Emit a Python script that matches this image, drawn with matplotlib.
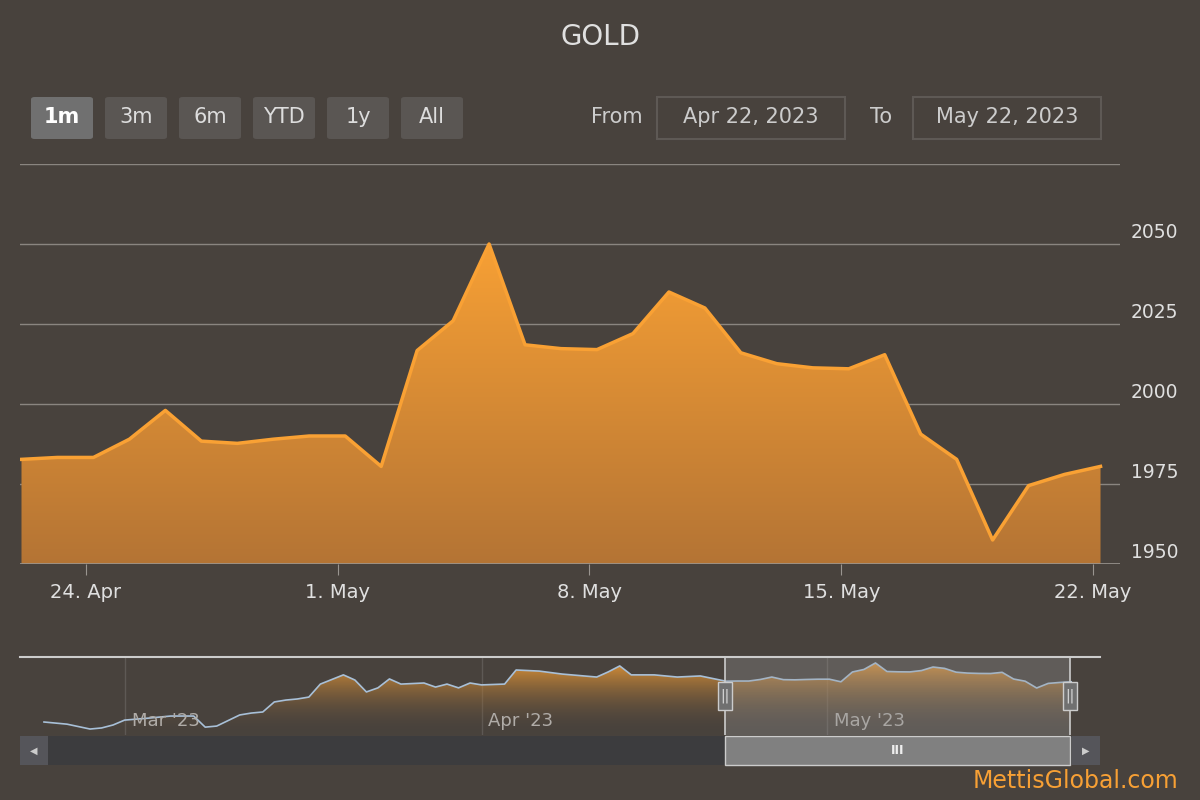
import matplotlib
matplotlib.use("Agg")
import matplotlib.pyplot as plt
import matplotlib.dates as mdates
from matplotlib.patches import Rectangle, FancyBboxPatch, Polygon
import numpy as np
import pandas as pd

# main series (daily close, Apr 22 - May 22 2023)
main_dates = pd.date_range("2023-04-22 05:00", periods=31, freq="D")
main_vals = [1982.7, 1983.3, 1983.3, 1989, 1998, 1988.4, 1987.7, 1989, 1990, 1990,
             1980.5, 2016.7, 2026, 2050, 2018.5, 2017.3, 2017, 2022, 2035, 2030,
             2016, 2012.6, 2011.3, 2011, 2015.4, 1990.6, 1982.7, 1957.5, 1974.5,
             1978, 1980.5]

# navigator history before the selected range
nav_dates = ["2023-02-22", "2023-02-24", "2023-02-26", "2023-02-27", "2023-02-28",
             "2023-03-01", "2023-03-03", "2023-03-05", "2023-03-07", "2023-03-08",
             "2023-03-09", "2023-03-11", "2023-03-12", "2023-03-13", "2023-03-14",
             "2023-03-15", "2023-03-16", "2023-03-17", "2023-03-18", "2023-03-20",
             "2023-03-21", "2023-03-22", "2023-03-23", "2023-03-24", "2023-03-25",
             "2023-03-27", "2023-03-28", "2023-03-29", "2023-03-30", "2023-03-31",
             "2023-04-01", "2023-04-03", "2023-04-04", "2023-04-06", "2023-04-08",
             "2023-04-11", "2023-04-12", "2023-04-13", "2023-04-14", "2023-04-16",
             "2023-04-18", "2023-04-20"]
nav_vals = [1832, 1824, 1806, 1810, 1821, 1839, 1846, 1854, 1854, 1813,
            1817, 1858, 1865, 1869, 1906, 1913, 1917, 1924, 1972, 2006,
            1987, 1943, 1958, 1991, 1972, 1976, 1961, 1972, 1958, 1976,
            1969, 1972, 2024, 2020, 2009, 1998, 2017, 2039, 2006, 2006,
            1998, 2002]

y_ticks = [1950, 1975, 2000, 2025, 2050, 2075]
x_ticks = ["2023-04-24", "2023-05-01", "2023-05-08", "2023-05-15", "2023-05-22"]
x_labels = ["24. Apr", "1. May", "8. May", "15. May", "22. May"]
buttons = ["1m", "3m", "6m", "YTD", "1y", "All"]

BG = "#48423d"
W, H = 1200, 800

fig = plt.figure(figsize=(12, 8), dpi=100, facecolor=BG)

def px_axes(x0, y0, x1, y1):
    return fig.add_axes([x0 / W, 1 - y1 / H, (x1 - x0) / W, (y1 - y0) / H])

def gradient_fill(ax, x, y, ybottom, c_top, c_bot, alpha_top=1.0, alpha_bot=1.0):
    xn = mdates.date2num(x)
    poly = Polygon(np.column_stack([np.r_[xn[0], xn, xn[-1]],
                                    np.r_[ybottom, y, ybottom]]),
                   closed=True, facecolor="none", edgecolor="none")
    ax.add_patch(poly)
    top = np.array(matplotlib.colors.to_rgba(c_top, alpha_top))
    bot = np.array(matplotlib.colors.to_rgba(c_bot, alpha_bot))
    t = np.linspace(0, 1, 256)[:, None]
    grad = (top * (1 - t) + bot * t)[:, None, :]
    ymax = max(y)
    im = ax.imshow(grad, aspect="auto", origin="upper",
                   extent=[xn[0], xn[-1], ybottom, ymax], zorder=1)
    im.set_clip_path(poly)

# title
fig.text(600 / W, 1 - 37 / H, "GOLD", color="#e0e0e0", fontsize=20,
         ha="center", va="center")

# main chart
ax = px_axes(20, 164, 1120, 564)
ax.set_facecolor("none")
t0 = pd.Timestamp("2023-04-22 05:00") - pd.Timedelta(hours=1)
t1 = pd.Timestamp("2023-05-22 05:00") + pd.Timedelta(hours=13)
ax.set_xlim(t0, t1)
ax.set_ylim(1950, 2075)
gradient_fill(ax, main_dates, main_vals, 1950, "#f7a035", "#b47434")
ax.plot(main_dates, main_vals, color="#f9a134", lw=2.5, zorder=3)
for v in y_ticks[1:]:
    ax.axhline(v, color="#8a8580", lw=1, zorder=0)
ax.axhline(1950, color="#9a9590", lw=1.2, zorder=4)
ax.set_xlim(t0, t1)
for s in ax.spines.values():
    s.set_visible(False)
ax.set_yticks([])
ax.set_xticks(pd.to_datetime(x_ticks))
ax.set_xticklabels(x_labels, color="#e0e0e0", fontsize=14)
ax.tick_params(axis="x", length=8, color="#9a9590", pad=6)
for v in y_ticks[:-1]:
    ax.text(1.053, (v - 1950) / 125 + 0.005, str(v), transform=ax.transAxes,
            color="#e0e0e0", fontsize=13.5, ha="right", va="bottom")

# range selector buttons
for i, b in enumerate(buttons):
    x0 = 31 + i * 74
    fc = "#707070" if i == 0 else "#5a5653"
    fig.patches.append(FancyBboxPatch((x0 / W, 1 - 139 / H), 62 / W, 42 / H,
                                      boxstyle="round,pad=0,rounding_size=0.003",
                                      transform=fig.transFigure, fc=fc, ec="none"))
    fig.text((x0 + 31) / W, 1 - 117 / H, b, color="white" if i == 0 else "#dddddd",
             fontsize=15, weight="bold" if i == 0 else "normal",
             ha="center", va="center")

# date inputs
fig.text(617 / W, 1 - 117 / H, "From", color="#cccccc", fontsize=15, ha="center", va="center")
fig.text(881 / W, 1 - 117 / H, "To", color="#cccccc", fontsize=15, ha="center", va="center")
for x0, x1, s in [(657, 845, "Apr 22, 2023"), (913, 1101, "May 22, 2023")]:
    fig.patches.append(Rectangle((x0 / W, 1 - 139 / H), (x1 - x0) / W, 42 / H,
                                 transform=fig.transFigure, fc="none",
                                 ec="#5e5955", lw=1.5))
    fig.text((x0 + x1) / 2 / W, 1 - 117 / H, s, color="#cccccc", fontsize=15,
             ha="center", va="center")

# navigator
nav_x = pd.to_datetime(nav_dates).append(main_dates)
nav_y = nav_vals + main_vals
nav = px_axes(20, 657, 1100, 735)
nav.set_facecolor("none")
n0 = pd.Timestamp("2023-02-19 22:00")
n1 = pd.Timestamp("2023-05-24 17:00")
nav.set_xlim(n0, n1)
nav.set_ylim(1784, 2072)
gradient_fill(nav, nav_x, nav_y, 1784, "#f7a035", "#48423d", 0.85, 0.0)
nav.plot(nav_x, nav_y, color="#a8c0d8", lw=1.2, zorder=3)
for d in ["2023-03-01", "2023-04-01", "2023-05-01"]:
    nav.axvline(pd.Timestamp(d), color="#5e5955", lw=1, zorder=0)
for d, s in [("2023-03-01", "Mar '23"), ("2023-04-01", "Apr '23"), ("2023-05-01", "May '23")]:
    nav.text(pd.Timestamp(d) + pd.Timedelta(days=0.6), 1836, s, color="#b0aca8",
             fontsize=13, va="center")
nav.axis("off")
nav.set_xlim(n0, n1)
sel0 = mdates.date2num(pd.Timestamp("2023-04-22 03:00"))
sel1 = mdates.date2num(pd.Timestamp("2023-05-22 03:00"))
nav.add_patch(Rectangle((sel0, 1784), sel1 - sel0, 288, fc="#9a9a9a", alpha=0.3,
                        ec="none", zorder=4))
nav.plot([mdates.date2num(n0), mdates.date2num(n1)], [2072, 2072], color="#cccccc",
         lw=1.5, clip_on=False, zorder=5)
nav.plot([sel0, sel0], [1784, 2072], color="#cccccc", lw=1.2, zorder=5)
nav.plot([sel1, sel1], [1784, 2072], color="#cccccc", lw=1.2, zorder=5)

# handles
for hx in [725, 1070]:
    fig.patches.append(Rectangle(((hx - 7) / W, 1 - 710 / H), 14 / W, 28 / H,
                                 transform=fig.transFigure, fc="#707070",
                                 ec="#cccccc", lw=1, zorder=6))
    fig.text(hx / W, 1 - 696 / H, "||", color="#dddddd", fontsize=10,
             ha="center", va="center", zorder=7)

# scrollbar
fig.patches.append(Rectangle((20 / W, 1 - 765 / H), 1080 / W, 29 / H,
                             transform=fig.transFigure, fc="#3c3c3e", ec="none"))
for x0 in [20, 1072]:
    fig.patches.append(Rectangle((x0 / W, 1 - 765 / H), 28 / W, 29 / H,
                                 transform=fig.transFigure, fc="#55555a", ec="none"))
fig.text(34 / W, 1 - 751 / H, "◀", color="#cccccc", fontsize=7, ha="center", va="center")
fig.text(1086 / W, 1 - 751 / H, "▶", color="#cccccc", fontsize=7, ha="center", va="center")
fig.patches.append(Rectangle((725 / W, 1 - 765 / H), 345 / W, 29 / H,
                             transform=fig.transFigure, fc="#808080",
                             ec="#cccccc", lw=1))
fig.text(898 / W, 1 - 750 / H, "III", color="#eeeeee", fontsize=9, weight="bold",
         ha="center", va="center")

fig.text(1178 / W, 1 - 781 / H, "MettisGlobal.com", color="#f7a035", fontsize=17,
         ha="right", va="center")

fig.savefig("out.png", dpi=100, facecolor=BG)
